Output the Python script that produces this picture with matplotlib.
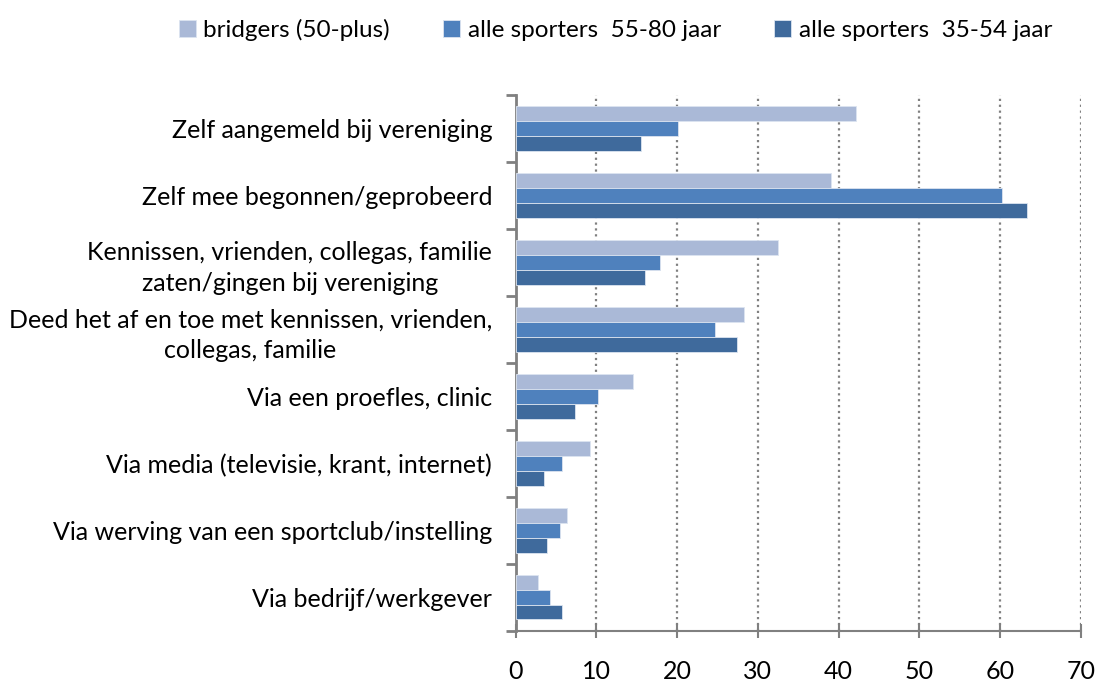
import numpy as np
import matplotlib
matplotlib.use("Agg")
from matplotlib import pyplot as plt
from matplotlib.ticker import FixedLocator

categories = ["Zelf aangemeld bij vereniging",
              "Zelf mee begonnen/geprobeerd",
              "Kennissen, vrienden, collegas, familie\nzaten/gingen bij vereniging",
              "Deed het af en toe met kennissen, vrienden,\ncollegas, familie",
              "Via een proefles, clinic",
              "Via media (televisie, krant, internet)",
              "Via werving van een sportclub/instelling",
              "Via bedrijf/werkgever"]
bridgers = [42.1, 39.0, 32.5, 28.3, 14.5, 9.2, 6.4, 2.8]
sport_55_80 = [20.1, 60.3, 17.9, 24.7, 10.2, 5.7, 5.5, 4.3]
sport_35_54 = [15.5, 63.4, 16.0, 27.4, 7.3, 3.5, 3.9, 5.7]
series_names = ["bridgers (50-plus)", "alle sporters  55-80 jaar", "alle sporters  35-54 jaar"]
colors = ["#AAB9D7", "#4F81BD", "#3F6A9C"]
xticks = [0, 10, 20, 30, 40, 50, 60, 70]

plt.rcParams["font.family"] = ["Lato", "DejaVu Sans"]

fig = plt.figure(figsize=(10.95, 6.84), dpi=100)
ax = fig.add_axes([0.471, 0.078, 0.516, 0.783])

y = np.arange(len(categories))
h = 0.222
for k, (vals, name, c) in enumerate(zip([bridgers, sport_55_80, sport_35_54], series_names, colors)):
    ax.barh(y + (k - 1) * h, vals, height=h, color=c, edgecolor="#DCE4F0",
            linewidth=0.6, label=name, zorder=3)

ax.set_xlim(0, 70)
ax.set_ylim(len(categories) - 0.5, -0.5)
ax.set_xticks(xticks)
ax.set_xticklabels([str(t) for t in xticks], fontsize=18)
ax.set_yticks(y)
ax.set_yticklabels(categories, fontsize=18, multialignment="center", linespacing=1.4)
ax.yaxis.set_minor_locator(FixedLocator(np.arange(-0.5, len(categories), 1.0)))
ax.tick_params(axis="y", which="major", length=0, pad=17)
ax.tick_params(axis="y", which="minor", length=7, width=2, color="#808080", direction="out")
ax.tick_params(axis="x", length=10, width=1.5, color="#808080", direction="inout", pad=16)

ax.grid(axis="x", linestyle=":", color="#808080", linewidth=1.6, zorder=0)
for s in ["top", "right"]:
    ax.spines[s].set_visible(False)
ax.spines["left"].set_color("#808080")
ax.spines["left"].set_linewidth(2)
ax.spines["bottom"].set_color("#808080")
ax.spines["bottom"].set_linewidth(1.5)

fig.legend(loc="upper center", bbox_to_anchor=(0.562, 1.005), ncol=3, frameon=False,
           fontsize=17.5, handlelength=0.7, handleheight=0.7, handletextpad=0.3,
           columnspacing=2.2)

fig.savefig("out.png", dpi=100)
